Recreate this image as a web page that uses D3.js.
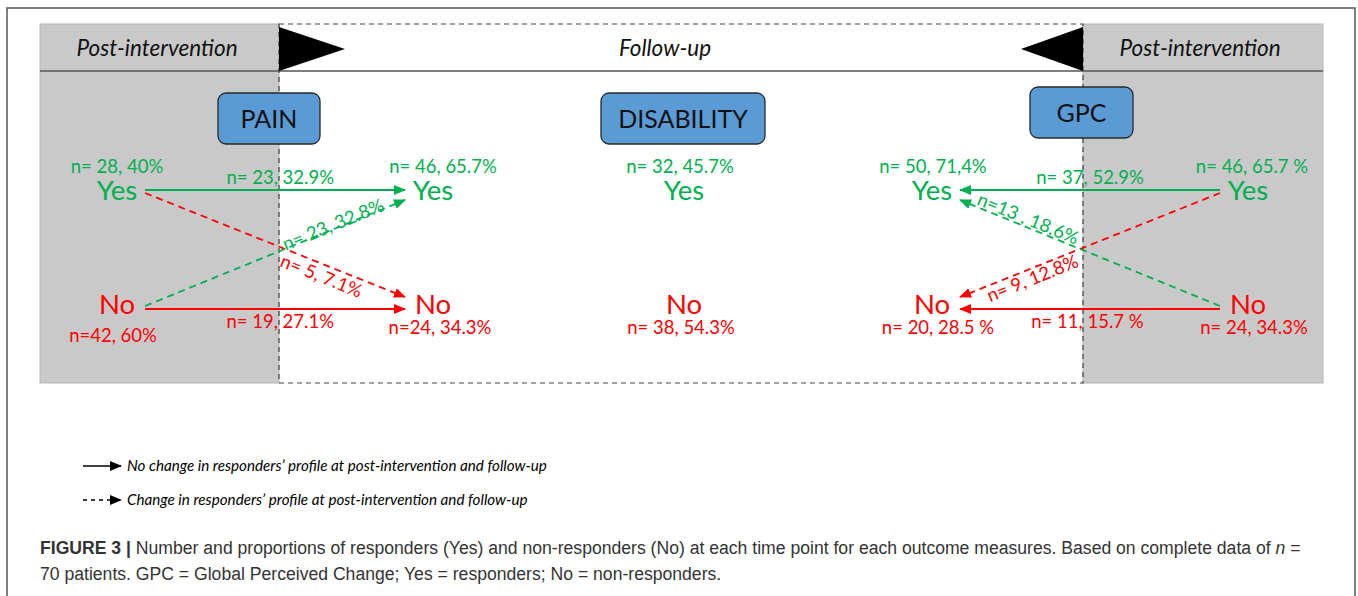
<!DOCTYPE html>
<html>
<head>
<meta charset="utf-8">
<script src="https://cdn.jsdelivr.net/npm/d3@7"></script>
<style>
  body { margin: 0; background: #fff; }
  svg { display: block; }
</style>
</head>
<body>
<svg id="chart" width="1358" height="596"></svg>
<script>
// data
var outcomes = ["PAIN", "DISABILITY", "GPC"];
var levels = ["Yes", "No"];
var columns = ["painPost", "painFollow", "disability", "gpcFollow", "gpcPost"];
var topLabels = ["n= 28, 40%", "n= 46, 65.7%", "n= 32, 45.7%", "n= 50, 71,4%", "n= 46, 65.7 %"];
var bottomLabels = ["n=42, 60%", "n=24, 34.3%", "n= 38, 54.3%", "n= 20, 28.5 %", "n= 24, 34.3%"];
var painFlows = [
  {from: "Yes", to: "Yes", label: "n= 23, 32.9%"},
  {from: "Yes", to: "No", label: "n= 5, 7.1%"},
  {from: "No", to: "Yes", label: "n= 23, 32.8%"},
  {from: "No", to: "No", label: "n= 19, 27.1%"}
];
var gpcFlows = [
  {from: "Yes", to: "Yes", label: "n= 37, 52.9%"},
  {from: "Yes", to: "No", label: "n= 9, 12.8%"},
  {from: "No", to: "Yes", label: "n=13 , 18.6%"},
  {from: "No", to: "No", label: "n= 11, 15.7 %"}
];
var headers = ["Post-intervention", "Follow-up", "Post-intervention"];
var legendItems = [
  {dash: null, text: "No change in responders\u2019 profile at post-intervention and follow-up"},
  {dash: "4,4", text: "Change in responders\u2019 profile at post-intervention and follow-up"}
];

var GREEN = "#00b050", RED = "#ff0000";
var FONT = "Lato, 'Open Sans', sans-serif";
var LBL = 18.5;

var svg = d3.select("#chart");

// scales
var x = d3.scaleOrdinal().domain(columns).range([117, 433, 684, 932, 1248]);
var y = d3.scalePoint().domain(levels).range([190, 307]);
var color = d3.scaleOrdinal().domain(levels).range([GREEN, RED]);
var topDx = [0, 10, -4, 1, 4];
var bottomDx = [-4, 7, -3, 6, 6];
var bottomY = [342, 334, 334, 334, 334];

// outer frame
svg.append("rect").attr("x", 7).attr("y", 8).attr("width", 1348).attr("height", 640)
  .attr("fill", "none").attr("stroke", "#555").attr("stroke-width", 1.5);

// panels
var panelTop = 24, panelBottom = 383, headY = 71;
var xl = 40, xm1 = 279, xm2 = 1083, xr = 1323;
svg.append("rect").attr("x", xl).attr("y", panelTop).attr("width", xm1 - xl).attr("height", panelBottom - panelTop)
  .attr("fill", "#c9c9c9").attr("stroke", "#b5b5b5").attr("stroke-width", 1);
svg.append("rect").attr("x", xm2).attr("y", panelTop).attr("width", xr - xm2).attr("height", panelBottom - panelTop)
  .attr("fill", "#c9c9c9").attr("stroke", "#b5b5b5").attr("stroke-width", 1);
// dashed middle frame
svg.append("path")
  .attr("d", "M" + xm1 + "," + panelTop + "H" + xm2 + "V" + panelBottom + "H" + xm1 + "Z")
  .attr("fill", "none").attr("stroke", "#444").attr("stroke-width", 1.2).attr("stroke-dasharray", "5,4");
svg.append("line").attr("x1", xl).attr("x2", xr).attr("y1", headY).attr("y2", headY)
  .attr("stroke", "#555").attr("stroke-width", 1.5);

// triangles
svg.append("path").attr("d", "M279,27L345,49L279,71Z").attr("fill", "#000");
svg.append("path").attr("d", "M1083,27L1021,49L1083,71Z").attr("fill", "#000");

// header texts
var headerX = [157, 665, 1200];
svg.selectAll("text.header").data(headers).join("text")
  .attr("class", "header")
  .attr("x", function(d, i){ return headerX[i]; })
  .attr("y", 56)
  .attr("text-anchor", "middle")
  .attr("font-family", FONT).attr("font-style", "italic").attr("font-size", 22.5)
  .attr("fill", "#111")
  .text(function(d){ return d; });

// outcome boxes
var boxes = [
  {x: 218, y: 93, w: 102, h: 51},
  {x: 601, y: 93, w: 164, h: 51},
  {x: 1030, y: 87, w: 103, h: 51}
];
var boxG = svg.selectAll("g.box").data(outcomes).join("g").attr("class", "box");
boxG.append("rect")
  .attr("x", function(d, i){ return boxes[i].x; })
  .attr("y", function(d, i){ return boxes[i].y; })
  .attr("width", function(d, i){ return boxes[i].w; })
  .attr("height", function(d, i){ return boxes[i].h; })
  .attr("rx", 8)
  .attr("fill", "#5b9bd5").attr("stroke", "#2a2a2a").attr("stroke-width", 1.3);
boxG.append("text")
  .attr("x", function(d, i){ return boxes[i].x + boxes[i].w / 2; })
  .attr("y", function(d, i){ return boxes[i].y + boxes[i].h / 2 + 9; })
  .attr("text-anchor", "middle")
  .attr("font-family", FONT).attr("font-size", 25)
  .attr("fill", "#111")
  .text(function(d){ return d; });

// nodes
columns.forEach(function(c, i){
  levels.forEach(function(l){
    svg.append("text")
      .attr("x", x(c)).attr("y", y(l) + (l === "Yes" ? 10 : 7))
      .attr("text-anchor", "middle")
      .attr("font-family", FONT).attr("font-size", 27.5)
      .attr("fill", color(l))
      .text(l);
  });
  svg.append("text")
    .attr("x", x(c) + topDx[i]).attr("y", y("Yes") - 17)
    .attr("text-anchor", "middle")
    .attr("font-family", FONT).attr("font-size", LBL)
    .attr("fill", GREEN)
    .text(topLabels[i]);
  svg.append("text")
    .attr("x", x(c) + bottomDx[i]).attr("y", bottomY[i])
    .attr("text-anchor", "middle")
    .attr("font-family", FONT).attr("font-size", LBL)
    .attr("fill", RED)
    .text(bottomLabels[i]);
});

// arrow markers
var defs = svg.append("defs");
[["g", GREEN], ["r", RED], ["k", "#000"]].forEach(function(m){
  defs.append("marker")
    .attr("id", "arrow-" + m[0])
    .attr("viewBox", "0 0 12 10")
    .attr("refX", 11).attr("refY", 5)
    .attr("markerWidth", 12).attr("markerHeight", 10)
    .attr("markerUnits", "userSpaceOnUse")
    .attr("orient", "auto")
    .append("path").attr("d", "M0,0L12,5L0,10Z").attr("fill", m[1]);
});

// flows
function drawFlows(flows, fromCol, toCol, labelPos){
  var dir = x(toCol) > x(fromCol) ? 1 : -1;
  var x0 = x(fromCol) + dir * 28, x1 = x(toCol) - dir * 28;
  flows.forEach(function(f, i){
    var same = f.from === f.to;
    var y0 = y(f.from) + (same ? (f.from === "No" ? 2 : 0) : (f.from === "Yes" ? 3 : -1));
    var y1 = y(f.to) + (same ? (f.to === "No" ? 2 : 0) : (f.to === "Yes" ? 10 : -10));
    var c = color(f.to);
    svg.append("line")
      .attr("x1", x0).attr("y1", y0).attr("x2", x1).attr("y2", y1)
      .attr("stroke", c).attr("stroke-width", 1.8)
      .attr("stroke-dasharray", same ? null : "7,5")
      .attr("marker-end", "url(#arrow-" + (f.to === "Yes" ? "g" : "r") + ")");
    var p = labelPos[i];
    var lx = x0 + (x1 - x0) * p.t, ly = y0 + (y1 - y0) * p.t;
    var ang = same ? 0 : Math.atan2(y1 - y0, x1 - x0) * 180 / Math.PI;
    if (ang > 90) ang -= 180;
    if (ang < -90) ang += 180;
    svg.append("text")
      .attr("transform", "translate(" + lx + "," + ly + ") rotate(" + ang + ")")
      .attr("x", p.dx || 0)
      .attr("y", p.dy)
      .attr("text-anchor", "middle")
      .attr("font-family", FONT).attr("font-size", LBL)
      .attr("fill", c)
      .text(f.label);
  });
}
drawFlows(painFlows, "painPost", "painFollow", [
  {t: 0.52, dy: -6}, {t: 0.695, dy: 18}, {t: 0.73, dy: 2}, {t: 0.52, dy: 19}
]);
drawFlows(gpcFlows, "gpcPost", "gpcFollow", [
  {t: 0.5, dy: -6}, {t: 0.735, dy: 16}, {t: 0.75, dy: -2}, {t: 0.51, dy: 19}
]);

// legend
var legY = d3.scalePoint().domain(legendItems.map(function(d){ return d.text; })).range([466, 500]);
legendItems.forEach(function(d){
  svg.append("line")
    .attr("x1", 83).attr("x2", 121)
    .attr("y1", legY(d.text)).attr("y2", legY(d.text))
    .attr("stroke", "#000").attr("stroke-width", 1.6)
    .attr("stroke-dasharray", d.dash)
    .attr("marker-end", "url(#arrow-k)");
  svg.append("text")
    .attr("x", 127).attr("y", legY(d.text) + 5)
    .attr("font-family", FONT).attr("font-style", "italic").attr("font-size", 15.2)
    .attr("fill", "#000")
    .text(d.text);
});

// caption
var CAPFONT = "'Liberation Sans', Arial, sans-serif";
var cap = svg.append("text")
  .attr("x", 40).attr("y", 554)
  .attr("font-family", CAPFONT).attr("font-size", 17.6)
  .attr("fill", "#333");
cap.append("tspan").attr("font-weight", "bold").text("FIGURE 3 | ");
cap.append("tspan").text("Number and proportions of responders (Yes) and non-responders (No) at each time point for each outcome measures. Based on complete data of ");
cap.append("tspan").attr("font-style", "italic").text("n");
cap.append("tspan").text(" =");
svg.append("text")
  .attr("x", 40).attr("y", 580)
  .attr("font-family", CAPFONT).attr("font-size", 17.6)
  .attr("fill", "#333")
  .text("70 patients. GPC = Global Perceived Change; Yes = responders; No = non-responders.");
</script>
</body>
</html>
